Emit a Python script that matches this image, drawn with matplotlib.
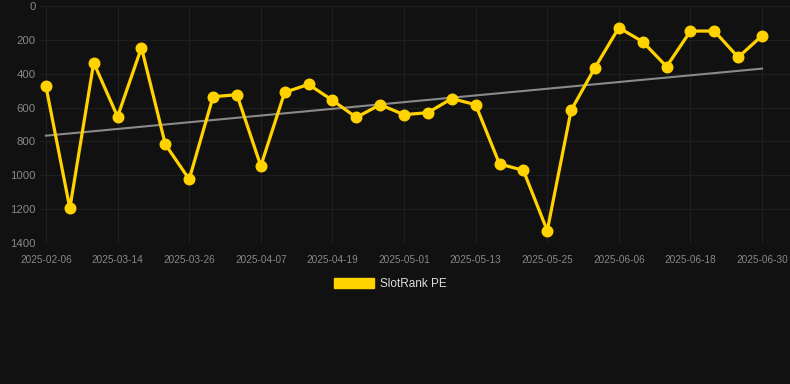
import numpy as np
import matplotlib
matplotlib.use("Agg")
import matplotlib.pyplot as plt
from matplotlib.patches import Patch

plt.rcParams["font.family"] = ["Liberation Sans", "DejaVu Sans"]

# dates of every point (only every third is labelled)
dates = ["2025-02-06", "2025-03-06", "2025-03-10", "2025-03-14", "2025-03-18",
         "2025-03-22", "2025-03-26", "2025-03-30", "2025-04-03", "2025-04-07",
         "2025-04-11", "2025-04-15", "2025-04-19", "2025-04-23", "2025-04-27",
         "2025-05-01", "2025-05-05", "2025-05-09", "2025-05-13", "2025-05-17",
         "2025-05-21", "2025-05-25", "2025-05-29", "2025-06-02", "2025-06-06",
         "2025-06-10", "2025-06-14", "2025-06-18", "2025-06-22", "2025-06-26",
         "2025-06-30"]
rank = [475, 1195, 335, 654, 246, 817, 1024, 536, 524, 945,
        510, 463, 557, 658, 583, 642, 630, 547, 583, 933,
        971, 1327, 616, 364, 128, 211, 358, 148, 148, 303,
        175]
yticks = [0, 200, 400, 600, 800, 1000, 1200, 1400]

bg = "#111111"
gold = "#FFD200"

fig = plt.figure(figsize=(7.9, 3.84), dpi=100, facecolor=bg)
ax = fig.add_axes([40/790, 141/384, 750/790, 237/384], facecolor=bg)

x = np.arange(len(rank))
ax.plot(x, rank, color=gold, lw=2.3, marker="o", ms=7.6, zorder=3)

# linear trend
k, b = np.polyfit(x, rank, 1)
ax.plot(x, k*x + b, color="#8a8a8a", lw=1.5, zorder=2)

ax.set_ylim(1400, 0)
ax.set_xlim(-0.25, len(rank) - 1 + 1.17)
ax.set_yticks(yticks)
ax.set_xticks(x[::3])
ax.set_xticklabels(dates[::3])
ax.grid(True, color="#1f1f1f", lw=0.8)
ax.set_axisbelow(True)
for s in ax.spines.values():
    s.set_visible(False)
ax.tick_params(length=0, colors="#888888")
ax.tick_params(axis="y", labelsize=8.2, pad=3)
ax.tick_params(axis="x", labelsize=7.2, pad=8.5)

leg = fig.legend(handles=[Patch(color=gold, label="SlotRank PE")],
                 loc="center", bbox_to_anchor=(390/790, 1 - 284/384),
                 frameon=False, handlelength=3.4, handleheight=1.0,
                 fontsize=8.5, labelcolor="#dddddd", handletextpad=0.5)

fig.savefig("out.png", facecolor=bg)
